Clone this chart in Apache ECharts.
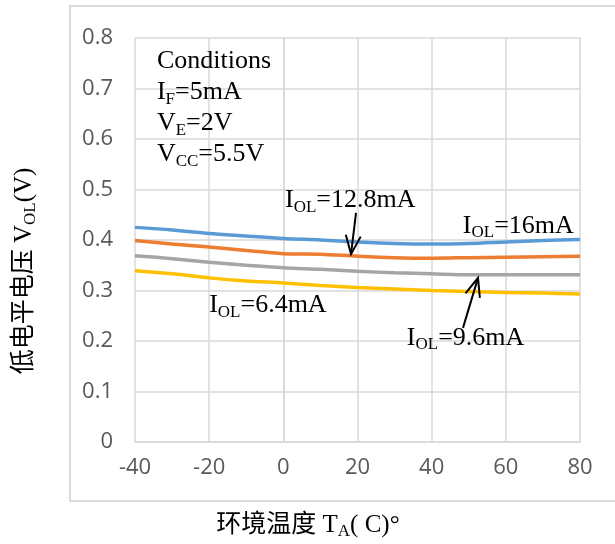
<!DOCTYPE html>
<html>
<head>
<meta charset="utf-8">
<script src="https://cdn.jsdelivr.net/npm/echarts@6/dist/echarts.min.js"></script>
<style>
  html, body { margin: 0; padding: 0; background: #fff; }
  #chart { width: 615px; height: 544px; }
</style>
</head>
<body>
<div id="chart"></div>
<script>
// Ambient temperature (°C) sample points
const temps = [-40, -30, -20, -10, 0, 10, 20, 30, 40, 50, 60, 70, 80];

// Low-level output voltage V_OL (V) for each sink current
const vol16mA   = [0.425, 0.420, 0.413, 0.408, 0.403, 0.400, 0.396, 0.393, 0.392, 0.393, 0.396, 0.399, 0.401];
const vol12_8mA = [0.399, 0.392, 0.386, 0.379, 0.373, 0.372, 0.368, 0.365, 0.364, 0.365, 0.366, 0.367, 0.368];
const vol9_6mA  = [0.369, 0.363, 0.356, 0.350, 0.345, 0.342, 0.338, 0.335, 0.333, 0.331, 0.331, 0.331, 0.331];
const vol6_4mA  = [0.339, 0.333, 0.325, 0.319, 0.315, 0.310, 0.306, 0.303, 0.300, 0.298, 0.296, 0.295, 0.293];

const seriesColors = ['#5B9BD5', '#ED7D31', '#A5A5A5', '#FFC000'];

// Axis ranges
const xMin = -40, xMax = 80, xStep = 20;
const yMin = 0, yMax = 0.8, yStep = 0.1;

const SERIF = "'Liberation Serif', 'Times New Roman', 'Noto Sans CJK SC', serif";
const SANS = "'Open Sans', 'Noto Sans', sans-serif";

const chart = echarts.init(document.getElementById('chart'), null, { renderer: 'canvas' });

function pairs(values) {
  return temps.map((t, i) => [t, values[i]]);
}

const lines = [vol16mA, vol12_8mA, vol9_6mA, vol6_4mA];

chart.setOption({
  animation: false,
  backgroundColor: '#ffffff',
  grid: { left: 135, right: 35, top: 38, bottom: 102, containLabel: false },
  xAxis: {
    type: 'value',
    min: xMin, max: xMax, interval: xStep,
    axisLine: { show: true, lineStyle: { color: '#d9d9d9', width: 1.5 } },
    axisTick: { show: false },
    splitLine: { show: true, lineStyle: { color: '#d9d9d9', width: 1.5 } },
    axisLabel: { color: '#595959', fontFamily: SANS, fontSize: 22, margin: 15 }
  },
  yAxis: {
    type: 'value',
    min: yMin, max: yMax, interval: yStep,
    axisLine: { show: true, lineStyle: { color: '#d9d9d9', width: 1.5 } },
    axisTick: { show: false },
    splitLine: { show: true, lineStyle: { color: '#d9d9d9', width: 1.5 } },
    axisLabel: {
      color: '#595959', fontFamily: SANS, fontSize: 22, margin: 22,
      formatter: v => String(Math.round(v * 10) / 10)
    }
  },
  series: lines.map((vals, i) => ({
    type: 'line',
    data: pairs(vals),
    smooth: 0.3,
    showSymbol: false,
    lineStyle: { color: seriesColors[i], width: 3.5 },
    z: 3 + (3 - i)
  }))
});

// Rich-text styles for labels with subscripts
const rich = {
  n: { fontFamily: SERIF, fontSize: 26, color: '#000', lineHeight: 31 },
  s: { fontFamily: SERIF, fontSize: 17, color: '#000', lineHeight: 16, verticalAlign: 'bottom' }
};

// Annotation anchors in data coordinates: [temperature, voltage]
const notes = [
  { at: [-34.1, 0.784], text: '{n|Conditions}\n{n|I}{s|F}{n|=5mA}\n{n|V}{s|E}{n|=2V}\n{n|V}{s|CC}{n|=5.5V}', valign: 'top' },
  { at: [0.45, 0.479],  text: '{n|I}{s|OL}{n|=12.8mA}', valign: 'middle' },
  { at: [48.4, 0.428],  text: '{n|I}{s|OL}{n|=16mA}', valign: 'middle' },
  { at: [33.3, 0.206],  text: '{n|I}{s|OL}{n|=9.6mA}', valign: 'middle' },
  { at: [-20.0, 0.271], text: '{n|I}{s|OL}{n|=6.4mA}', valign: 'middle' }
];

// Arrows pointing to curves: tail -> tip, in data coordinates
const arrows = [
  { from: [19.6, 0.4535], to: [18.25, 0.372] },
  { from: [48.45, 0.226], to: [52.5, 0.325] }
];

const toPx = p => chart.convertToPixel({ gridIndex: 0 }, p);

const graphics = [];

// Outer chart frame
graphics.push({
  type: 'rect',
  shape: { x: 70, y: 6, width: 560, height: 495 },
  style: { fill: null, stroke: '#d9d9d9', lineWidth: 2 },
  z: 0, silent: true
});

notes.forEach(nt => {
  const [px, py] = toPx(nt.at);
  graphics.push({
    type: 'text', x: px, y: py, z: 20,
    style: { text: nt.text, rich: rich, align: 'left', verticalAlign: nt.valign }
  });
});

arrows.forEach(a => {
  const [x1, y1] = toPx(a.from);
  const [x2, y2] = toPx(a.to);
  const ang = Math.atan2(y2 - y1, x2 - x1);
  const L = 20, half = 22 * Math.PI / 180;
  const h1 = [x2 - L * Math.cos(ang - half), y2 - L * Math.sin(ang - half)];
  const h2 = [x2 - L * Math.cos(ang + half), y2 - L * Math.sin(ang + half)];
  graphics.push({
    type: 'line', z: 20,
    shape: { x1: x1, y1: y1, x2: x2, y2: y2 },
    style: { stroke: '#000', lineWidth: 2 }
  });
  graphics.push({
    type: 'polyline', z: 20,
    shape: { points: [h1, [x2, y2], h2] },
    style: { stroke: '#000', lineWidth: 2, fill: null }
  });
});

// Axis titles
graphics.push({
  type: 'text', x: 308, y: 525, z: 20,
  style: {
    text: '{c|环境温度 T}{s|A}{c|( C)°}',
    align: 'center', verticalAlign: 'middle',
    rich: {
      c: { fontFamily: SERIF, fontSize: 25, color: '#000', lineHeight: 30 },
      s: rich.s
    }
  }
});
graphics.push({
  type: 'text', x: 24, y: 271, z: 20, rotation: Math.PI / 2,
  style: {
    text: '{c|低电平电压 V}{s|OL}{c|(V)}',
    align: 'center', verticalAlign: 'middle',
    rich: {
      c: { fontFamily: SERIF, fontSize: 25, color: '#000', lineHeight: 30 },
      s: rich.s
    }
  }
});

chart.setOption({ graphic: graphics });
</script>
</body>
</html>
